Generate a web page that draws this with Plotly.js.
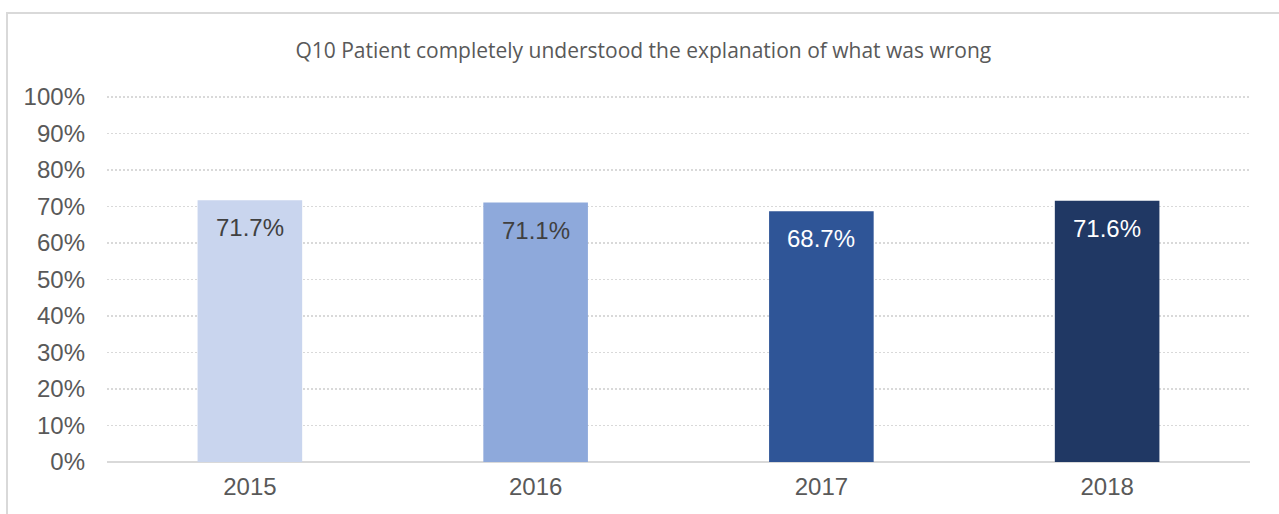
<!DOCTYPE html>
<html>
<head>
<meta charset="utf-8">
<script src="https://cdn.plot.ly/plotly-3.0.1.min.js"></script>
<style>
  html, body { margin: 0; padding: 0; background: #ffffff; }
  #frame { position: absolute; left: 6px; top: 12px; width: 1290px; height: 520px; border: 2px solid #D9D9D9; box-sizing: border-box; }
  #chart { position: absolute; left: 0; top: 0; width: 1279px; height: 514px; }
</style>
</head>
<body>
<div id="frame"></div>
<div id="chart"></div>
<script>
const categories = ['2015', '2016', '2017', '2018'];
const values = [0.717, 0.711, 0.687, 0.716];
const labels = ['71.7%', '71.1%', '68.7%', '71.6%'];
const barColors = ['#C9D5EE', '#8EA9DB', '#2F5597', '#203864'];
const labelColors = ['#404040', '#404040', '#FFFFFF', '#FFFFFF'];
const yTickValues = [0, 0.1, 0.2, 0.3, 0.4, 0.5, 0.6, 0.7, 0.8, 0.9, 1.0];
const yTickLabels = ['0%', '10%', '20%', '30%', '40%', '50%', '60%', '70%', '80%', '90%', '100%'];
const titleText = 'Q10 Patient completely understood the explanation of what was wrong';

const trace = {
  type: 'bar',
  x: categories,
  y: values,
  marker: { color: barColors },
  hoverinfo: 'none'
};

const annotations = categories.map((c, i) => ({
  x: i, y: values[i], xref: 'x', yref: 'y',
  text: labels[i], showarrow: false,
  yanchor: 'top', yshift: -12,
  font: { family: 'Arial, "Liberation Sans", sans-serif', size: 24, color: labelColors[i] }
}));

const layout = {
  width: 1279, height: 514,
  paper_bgcolor: 'rgba(0,0,0,0)',
  plot_bgcolor: 'rgba(0,0,0,0)',
  margin: { l: 107, r: 29, t: 96, b: 52, pad: 0 },
  bargap: 0.634,
  showlegend: false,
  title: {
    text: titleText,
    x: 0.503, xanchor: 'center',
    y: 0.901, yanchor: 'middle',
    font: { family: '"Open Sans", sans-serif', size: 21, color: '#595959' }
  },
  xaxis: {
    type: 'category',
    range: [-0.5, 3.5],
    showgrid: false,
    showline: false,
    ticks: '',
    tickfont: { family: 'Arial, "Liberation Sans", sans-serif', size: 24, color: '#595959' },
    ticklabelstandoff: 8
  },
  yaxis: {
    range: [0, 1.003],
    tickvals: yTickValues,
    ticktext: yTickLabels,
    showgrid: true,
    gridcolor: '#D9D9D9',
    griddash: '2px,2px',
    gridwidth: 1.4,
    zeroline: true,
    zerolinecolor: '#D9D9D9',
    zerolinewidth: 2,
    showline: false,
    ticks: '',
    tickfont: { family: 'Arial, "Liberation Sans", sans-serif', size: 24, color: '#595959' },
    ticklabelstandoff: 21
  },
  annotations: annotations
};

Plotly.newPlot('chart', [trace], layout, { displayModeBar: false, staticPlot: true });
</script>
</body>
</html>
